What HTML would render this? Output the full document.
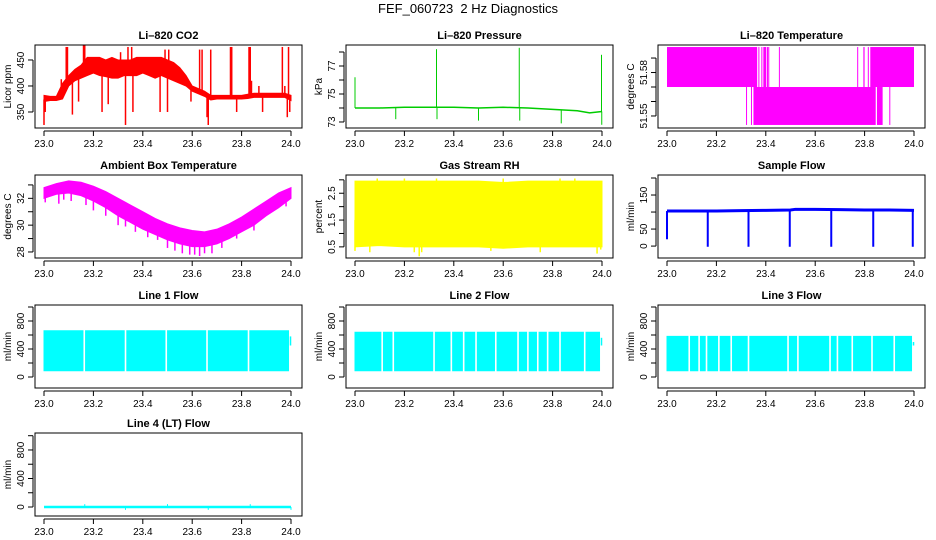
<!DOCTYPE html>
<html><head><meta charset="utf-8"><title>FEF_060723 2 Hz Diagnostics</title>
<style>
html,body{margin:0;padding:0;background:#fff;}
svg{display:block;font-family:"Liberation Sans",Arial,sans-serif;}
</style></head>
<body>
<svg id="chart" width="936" height="540" viewBox="0 0 936 540" xmlns="http://www.w3.org/2000/svg">
<rect x="0" y="0" width="936" height="540" fill="#fff"/>
<text x="468" y="13" text-anchor="middle" font-size="13">FEF_060723&#160; 2 Hz Diagnostics</text>
</svg>
<script>
// ---------------- data ----------------
const xTicks = [23.0, 23.2, 23.4, 23.6, 23.8, 24.0];
const xTickLabels = ["23.0", "23.2", "23.4", "23.6", "23.8", "24.0"];

// CO2 envelope (step 0.025 from 23.0)
const co2Times = [23.0,23.025,23.05,23.075,23.1,23.125,23.15,23.175,23.2,23.225,23.25,23.275,23.3,23.325,23.35,23.375,23.4,23.425,23.45,23.475,23.5,23.525,23.55,23.575,23.6,23.625,23.65,23.675,23.7,23.725,23.75,23.775,23.8,23.825,23.85,23.875,23.9,23.925,23.95,23.975,24.0];
const co2High = [382,380,380,405,420,432,440,455,455,455,450,455,450,450,450,455,455,455,455,455,450,445,435,420,400,395,390,382,382,382,382,382,382,384,386,386,386,386,386,386,382];
const co2Low  = [370,372,372,375,400,410,415,420,425,420,418,415,415,420,420,420,425,420,415,420,415,410,405,400,390,385,380,373,375,375,375,375,375,376,378,378,378,378,378,378,372];
const co2SpikeT = [23.0,23.005,23.07,23.09,23.095,23.115,23.14,23.16,23.165,23.235,23.26,23.31,23.33,23.34,23.355,23.36,23.47,23.49,23.5,23.505,23.595,23.63,23.64,23.66,23.665,23.675,23.755,23.76,23.78,23.83,23.835,23.84,23.87,23.885,23.965,23.975,23.985,23.99,23.995];
const co2SpikeV = [325,350,413,475,475,345,370,478,478,350,365,465,325,475,475,350,350,470,350,470,370,470,470,340,325,470,475,475,350,475,475,410,400,350,475,400,340,475,350];

// Pressure
const presTimes = [23.0,23.1,23.2,23.3,23.4,23.5,23.6,23.7,23.8,23.9,23.95,24.0];
const presBase  = [74.0,74.0,74.05,74.05,74.05,74.0,74.05,74.0,73.9,73.8,73.65,73.75];
const presSpikeT = [23.0,23.165,23.33,23.332,23.5,23.665,23.667,23.835,23.998,23.999];
const presSpikeV = [76.2,73.2,78.2,73.2,73.1,78.3,73.1,72.9,77.8,72.8];

// Li-820 temperature (quantized levels, toggling intervals)
const ltLevels = [51.5976, 51.57, 51.5438];
const ltUpperStart = [23.0,23.37,23.382,23.39,23.405,23.41,23.453,23.77,23.795,23.813,23.823];
const ltUpperEnd   = [23.365,23.373,23.386,23.402,23.408,23.413,23.456,23.773,23.8,23.817,24.0];
const ltLowerStart = [23.32,23.34,23.35,23.85,23.9];
const ltLowerEnd   = [23.324,23.343,23.845,23.873,23.903];

// Ambient box temperature
const ambTimes = [23.0,23.05,23.1,23.15,23.2,23.25,23.3,23.35,23.4,23.45,23.5,23.55,23.6,23.65,23.7,23.75,23.8,23.85,23.9,23.95,24.0];
const ambHigh = [32.8,33.1,33.3,33.2,32.9,32.5,32.0,31.5,31.0,30.5,30.1,29.8,29.6,29.5,29.7,30.1,30.6,31.2,31.8,32.4,32.8];
const ambLow  = [32.0,32.3,32.4,32.2,31.8,31.3,30.7,30.2,29.7,29.3,28.9,28.6,28.4,28.4,28.6,29.0,29.5,30.0,30.7,31.3,32.0];
const ambDipT = [23.005,23.06,23.08,23.11,23.17,23.2,23.25,23.3,23.33,23.37,23.42,23.46,23.5,23.53,23.56,23.59,23.61,23.63,23.65,23.68,23.72,23.78,23.85,23.98];
const ambDipV = [31.7,31.6,31.9,31.8,31.5,31.1,30.7,30.0,29.9,29.5,29.1,28.9,28.3,28.1,27.9,27.8,27.8,27.7,27.9,27.9,28.3,29.0,29.6,31.4];

// Gas stream RH
const rhTimes = [23.0,23.1,23.2,23.3,23.4,23.5,23.6,23.7,23.8,23.9,24.0];
const rhHigh = [2.95,2.95,2.95,2.95,2.95,2.95,2.9,2.95,2.95,2.95,2.95];
const rhLow  = [0.5,0.55,0.5,0.5,0.5,0.5,0.45,0.5,0.5,0.5,0.5];
const rhSpikeT = [23.0,23.06,23.09,23.2,23.24,23.26,23.27,23.33,23.55,23.6,23.75,23.83,23.89,23.98,23.995];
const rhSpikeV = [0.35,0.3,3.05,3.05,0.3,0.15,0.3,3.05,0.35,3.05,0.3,3.05,3.05,0.25,0.4];

// Sample flow
const sfTimes = [23.0,23.1,23.2,23.3,23.4,23.5,23.52,23.6,23.7,23.8,23.9,24.0];
const sfBase  = [103,103,103,104,105,106,108,108,107,106,106,105];
const sfDropT = [23.0,23.165,23.33,23.497,23.665,23.835,23.995];
const sfDropV = [20,-2,-2,-2,-2,-2,-2];

// Line flows
const l1High = 660, l1Low = 90;
const l1Gaps = [23.163,23.33,23.495,23.66,23.828];
const l2High = 640, l2Low = 90;
const l2Gaps = [23.11,23.155,23.32,23.39,23.44,23.49,23.57,23.66,23.7,23.74,23.78,23.83,23.93];
const l3High = 580, l3Low = 90;
const l3Gaps = [23.09,23.13,23.16,23.21,23.26,23.33,23.49,23.53,23.66,23.69,23.75,23.83,23.92];
const l4Base = 0;
const l4SpikeT = [23.165,23.33,23.5,23.665,23.835,24.0];
const l4SpikeV = [40,-40,40,-40,40,-40];

// ---------------- drawing ----------------
const NS = "http://www.w3.org/2000/svg";
const svg = document.getElementById("chart");
const cols = [35,346,658], rows = [45,175,305,433], W = 267, H = 83;
function mk(tag, attrs, parent){
  const e = document.createElementNS(NS, tag);
  for (const k in attrs) e.setAttribute(k, attrs[k]);
  (parent||svg).appendChild(e);
  return e;
}
let clipN = 0;
function panel(c, r, name, title, ytitle, ymin, ymax, yticks, ylabels){
  const L = cols[c], T = rows[r], B = T + H;
  const g = mk("g", {});
  
  
  const x = t => L + 9 + (t - 23) * 247;
  const y = v => B - (v - ymin) / (ymax - ymin) * H;
  const cid = "clip" + (clipN++);
  const cp = mk("clipPath", {id: cid}, g);
  mk("rect", {x: L, y: T, width: W, height: H}, cp);
  const plot = mk("g", {"clip-path": "url(#" + cid + ")"}, g);
  
  
  const fr = mk("rect", {x: L, y: T, width: W, height: H, fill: "none", stroke: "#000", "stroke-width": 1}, g);
  
  
  const tt = mk("text", {x: L + W/2, y: T - 6, "text-anchor": "middle", "font-size": 11, "font-weight": "bold"}, g);
  tt.textContent = title;
  
  
  const xa = mk("g", {}, g);
  
  
  mk("line", {x1: x(xTicks[0]), x2: x(xTicks[xTicks.length-1]), y1: B + 3, y2: B + 3, stroke: "#000"}, xa);
  xTicks.forEach((t, i) => {
    mk("line", {x1: x(t), x2: x(t), y1: B + 3, y2: B + 8, stroke: "#000"}, xa);
    const lb = mk("text", {x: x(t), y: B + 19, "text-anchor": "middle", "font-size": 10}, xa);
    lb.textContent = xTickLabels[i];
  });
  const ya = mk("g", {}, g);
  
  
  const yt = yticks.filter(v => y(v) >= T - 0.5 && y(v) <= B + 0.5);
  mk("line", {x1: L - 2, x2: L - 2, y1: y(yt[0]), y2: y(yt[yt.length-1]), stroke: "#000"}, ya);
  yt.forEach(v => mk("line", {x1: L - 7, x2: L - 2, y1: y(v), y2: y(v), stroke: "#000"}, ya));
  ylabels.forEach(v => {
    const lb = mk("text", {x: L - 11, y: y(v), "text-anchor": "middle", "font-size": 10, transform: "rotate(-90 " + (L - 11) + " " + y(v) + ")"}, ya);
    lb.textContent = String(v);
  });
  const yl = mk("text", {x: L - 24, y: T + H/2, "text-anchor": "middle", "font-size": 10, transform: "rotate(-90 " + (L - 24) + " " + (T + H/2) + ")"}, g);
  yl.textContent = ytitle;
  
  
  return {x, y, plot};
}
function band(p, times, hi, lo, color){
  let d = "M" + times.map((t, i) => p.x(t) + "," + p.y(hi[i])).join("L");
  for (let i = times.length - 1; i >= 0; i--) d += "L" + p.x(times[i]) + "," + p.y(lo[i]);
  const e = mk("path", {d: d + "Z", fill: color, stroke: color, "stroke-width": 1}, p.plot);
  
  
}
function polyline(p, times, vals, color, w){
  const e = mk("polyline", {points: times.map((t, i) => p.x(t) + "," + p.y(vals[i])).join(" "), fill: "none", stroke: color, "stroke-width": w}, p.plot);
  
  
}
function vline(p, t, v0, v1, color, w){
  const e = mk("line", {x1: p.x(t), x2: p.x(t), y1: p.y(v0), y2: p.y(v1), stroke: color, "stroke-width": w}, p.plot);
  
  
}
function interp(times, vals, t){
  if (t <= times[0]) return vals[0];
  for (let i = 1; i < times.length; i++) if (t <= times[i]) {
    const f = (t - times[i-1]) / (times[i] - times[i-1]);
    return vals[i-1] + f * (vals[i] - vals[i-1]);
  }
  return vals[vals.length - 1];
}

{
  const p = panel(0, 0, "co2", "Li\u2013820 CO2", "Licor ppm", 319.2, 478.8, [350,400,450], [350,400,450]);
  band(p, co2Times, co2High, co2Low, "#ff0000");
  co2SpikeT.forEach((t, i) => vline(p, t, interp(co2Times, co2Low, t) + 4, co2SpikeV[i], "#ff0000", 1.5));
}
{
  const p = panel(1, 0, "pressure", "Li\u2013820 Pressure", "kPa", 72.57, 78.5, [73,74,75,76,77,78], [73,75,77]);
  polyline(p, presTimes, presBase, "#00cc00", 1.5);
  presSpikeT.forEach((t, i) => vline(p, t, interp(presTimes, presBase, t), presSpikeV[i], "#00cc00", 1));
}
{
  const p = panel(2, 0, "li820-temp", "Li\u2013820 Temperature", "degrees C", 51.5417, 51.599, [51.55,51.56,51.57,51.58,51.59], [51.55, 51.58]);
  ltUpperStart.forEach((s, i) => {
    const e = mk("rect", {x: p.x(s), y: p.y(ltLevels[0]), width: Math.max(1, p.x(ltUpperEnd[i]) - p.x(s)), height: p.y(ltLevels[1]) - p.y(ltLevels[0]), fill: "#ff00ff"}, p.plot);
    
    
  });
  ltLowerStart.forEach((s, i) => {
    const e = mk("rect", {x: p.x(s), y: p.y(ltLevels[1]), width: Math.max(1, p.x(ltLowerEnd[i]) - p.x(s)), height: p.y(ltLevels[2]) - p.y(ltLevels[1]), fill: "#ff00ff"}, p.plot);
    
    
  });
}
{
  const p = panel(0, 1, "ambient-temp", "Ambient Box Temperature", "degrees C", 27.55, 33.74, [28,29,30,31,32,33], [28,30,32]);
  band(p, ambTimes, ambHigh, ambLow, "#ff00ff");
  ambDipT.forEach((t, i) => vline(p, t, interp(ambTimes, ambLow, t), ambDipV[i], "#ff00ff", 1.5));
}
{
  const p = panel(1, 1, "gas-rh", "Gas Stream RH", "percent", 0.085, 3.18, [0.5,1,1.5,2,2.5,3], [0.5,1.5,2.5]);
  band(p, rhTimes, rhHigh, rhLow, "#ffff00");
  rhSpikeT.forEach((t, i) => vline(p, t, 1.5, rhSpikeV[i], "#ffff00", 1.5));
}
{
  const p = panel(2, 1, "sample-flow", "Sample Flow", "ml/min", -35, 208.8, [0,50,100,150,200], [0,50,150]);
  polyline(p, sfTimes, sfBase, "#0000ff", 3);
  sfDropT.forEach((t, i) => vline(p, t, interp(sfTimes, sfBase, t), sfDropV[i], "#0000ff", 2));
}
function flowPanel(c, r, name, title, hi, lo, gaps){
  const p = panel(c, r, name, title, "ml/min", -157, 1028.6, [0,200,400,600,800,1000], [0,400,800]);
  band(p, [23.0, 23.99], [hi, hi], [lo, lo], "#00ffff");
  gaps.forEach(t => {
    const e = mk("rect", {x: p.x(t) - 0.8, y: p.y(hi + 30), width: 1.6, height: p.y(lo - 20) - p.y(hi + 30), fill: "#fff"}, p.plot);
    
    
  });
  vline(p, 23.998, 450, hi - 80, "#00ffff", 1.5);
}
flowPanel(0, 2, "line1-flow", "Line 1 Flow", l1High, l1Low, l1Gaps);
flowPanel(1, 2, "line2-flow", "Line 2 Flow", l2High, l2Low, l2Gaps);
flowPanel(2, 2, "line3-flow", "Line 3 Flow", l3High, l3Low, l3Gaps);
{
  const p = panel(0, 3, "line4-flow", "Line 4 (LT) Flow", "ml/min", -126, 1038, [0,200,400,600,800,1000], [0,400,800]);
  polyline(p, [23.0, 24.0], [l4Base, l4Base], "#00ffff", 2.5);
  l4SpikeT.forEach((t, i) => vline(p, t, l4Base, l4SpikeV[i], "#00ffff", 1));
}
</script>
</body></html>
